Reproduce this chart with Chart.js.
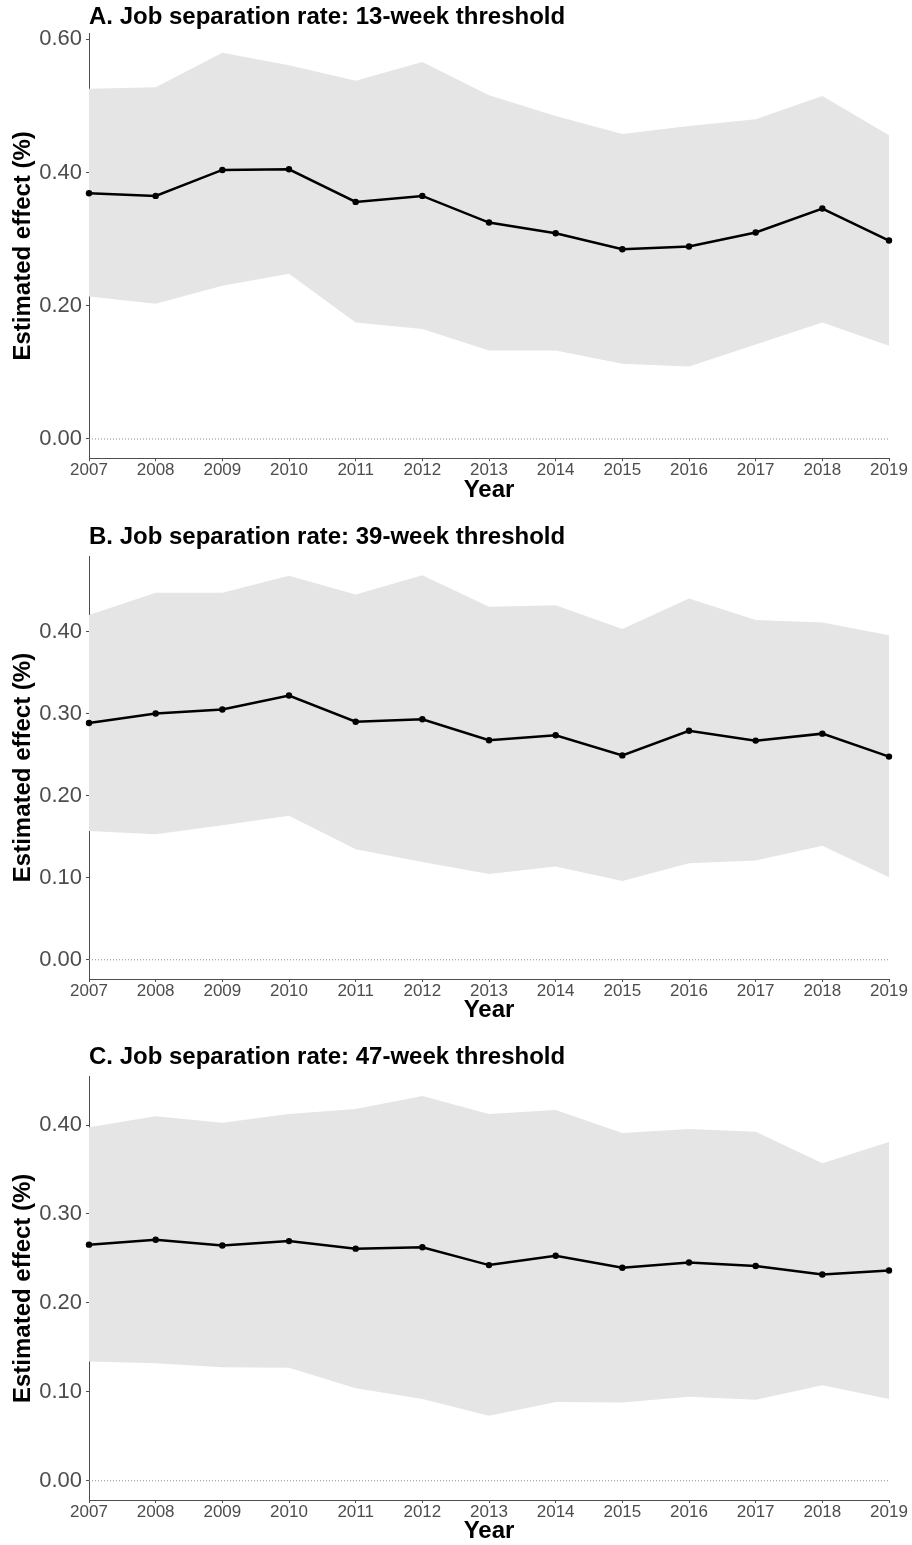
<!DOCTYPE html>
<html>
<head>
<meta charset="utf-8">
<script src="https://cdn.jsdelivr.net/npm/chart.js@4.4.0/dist/chart.umd.min.js"></script>
<style>
  body { margin: 0; background: #fff; width: 912px; height: 1545px; position: relative; overflow: hidden; }
  canvas { position: absolute; left: 0; }
</style>
</head>
<body>
<canvas id="chartA" width="912" height="512" style="top:0px"></canvas>
<canvas id="chartB" width="912" height="512" style="top:520px"></canvas>
<canvas id="chartC" width="912" height="507" style="top:1040px"></canvas>
<script>
// data
const years = ['2007','2008','2009','2010','2011','2012','2013','2014','2015','2016','2017','2018','2019'];

// A. 13-week threshold
const estA   = [0.369, 0.365, 0.404, 0.405, 0.356, 0.365, 0.325, 0.309, 0.285, 0.289, 0.310, 0.346, 0.298];
const upperA = [0.526, 0.528, 0.580, 0.561, 0.538, 0.566, 0.516, 0.485, 0.458, 0.470, 0.480, 0.515, 0.456];
const lowerA = [0.214, 0.203, 0.230, 0.248, 0.175, 0.165, 0.133, 0.133, 0.113, 0.109, 0.142, 0.175, 0.140];
const ticksA = [0, 0.2, 0.4, 0.6];

// B. 39-week threshold
const estB   = [0.2885, 0.300, 0.305, 0.322, 0.290, 0.293, 0.2675, 0.2735, 0.249, 0.279, 0.267, 0.2755, 0.2475];
const upperB = [0.420, 0.447, 0.447, 0.468, 0.445, 0.4685, 0.430, 0.432, 0.403, 0.440, 0.414, 0.411, 0.3955];
const lowerB = [0.157, 0.153, 0.164, 0.1755, 0.1345, 0.119, 0.1045, 0.1135, 0.096, 0.1175, 0.121, 0.139, 0.1005];
const ticksB = [0, 0.1, 0.2, 0.3, 0.4];

// C. 47-week threshold
const estC   = [0.2655, 0.271, 0.2645, 0.2695, 0.261, 0.2625, 0.2425, 0.253, 0.2395, 0.2455, 0.2415, 0.232, 0.2365];
const upperC = [0.3975, 0.410, 0.4025, 0.4125, 0.418, 0.4327, 0.4125, 0.417, 0.391, 0.3955, 0.3925, 0.357, 0.381];
const lowerC = [0.134, 0.132, 0.1275, 0.127, 0.104, 0.092, 0.073, 0.0885, 0.088, 0.0945, 0.091, 0.1073, 0.092];
const ticksC = [0, 0.1, 0.2, 0.3, 0.4];

Chart.defaults.font.family = '"Liberation Sans", Arial, Helvetica, sans-serif';

const axisGrey = '#4d4d4d';

function makePanel(id, title, est, upper, lower, yTicks, lay) {
    // ggplot-style 5% expansion around [0, max upper]
    const hi = Math.max(...upper);
    const yMin = -0.05 * hi, yMax = hi * 1.05;

    return new Chart(document.getElementById(id), {
        type: 'line',
        data: {
            labels: years,
            datasets: [
                { data: est, borderColor: '#000', borderWidth: 2.5, pointRadius: 3.2,
                  pointBackgroundColor: '#000', pointBorderWidth: 0, fill: false, order: 0 },
                { data: years.map(() => 0), borderColor: '#8c8c8c', borderWidth: 1,
                  borderDash: [1, 2], pointRadius: 0, fill: false, order: 1 },
                { data: upper, borderWidth: 0, pointRadius: 0, fill: '+1',
                  backgroundColor: '#e5e5e5', order: 2 },
                { data: lower, borderWidth: 0, pointRadius: 0, fill: false, order: 3 }
            ]
        },
        options: {
            responsive: false,
            animation: false,
            layout: { padding: { left: 0, right: 23, top: 0, bottom: 0 } },
            plugins: {
                legend: { display: false },
                tooltip: { enabled: false },
                title: {
                    display: true, text: title, align: 'start', fullSize: false,
                    color: '#000', font: { size: 24, weight: 'bold' },
                    padding: { top: lay.titleTop, bottom: lay.titleBottom }
                }
            },
            scales: {
                x: {
                    type: 'category',
                    grid: { drawOnChartArea: false, drawTicks: true, tickLength: 3, color: axisGrey },
                    border: { display: true, color: axisGrey, width: 1 },
                    ticks: { color: axisGrey, font: { size: 17 }, padding: -1, autoSkip: false, maxRotation: 0 },
                    title: { display: true, text: 'Year', color: '#000',
                             font: { size: 24, weight: 'bold' }, padding: { top: 0, bottom: lay.yearPad } },
                    afterFit: s => { s.height = lay.xHeight; }
                },
                y: {
                    min: yMin, max: yMax,
                    grid: { drawOnChartArea: false, drawTicks: true, tickLength: 3, color: axisGrey },
                    border: { display: true, color: axisGrey, width: 1 },
                    ticks: { color: axisGrey, font: { size: 22 }, padding: 4,
                             callback: v => v.toFixed(2) },
                    afterBuildTicks: s => { s.ticks = yTicks.map(v => ({ value: v })); },
                    title: { display: true, text: 'Estimated effect (%)', color: '#000',
                             font: { size: 24, weight: 'bold' }, padding: { top: 9, bottom: 0 } },
                    afterFit: s => { s.width = 89; }
                }
            }
        }
    });
}

makePanel('chartA', 'A. Job separation rate: 13-week threshold', estA, upperA, lowerA, ticksA,
    { titleTop: 2.8, titleBottom: 1.8, xHeight: 53.7, yearPad: 7.3 });
makePanel('chartB', 'B. Job separation rate: 39-week threshold', estB, upperB, lowerB, ticksB,
    { titleTop: 3.1, titleBottom: 4.1, xHeight: 53, yearPad: 7.6 });
makePanel('chartC', 'C. Job separation rate: 47-week threshold', estC, upperC, lowerC, ticksC,
    { titleTop: 3.1, titleBottom: 4.8, xHeight: 47, yearPad: 1.1 });
</script>
</body>
</html>
